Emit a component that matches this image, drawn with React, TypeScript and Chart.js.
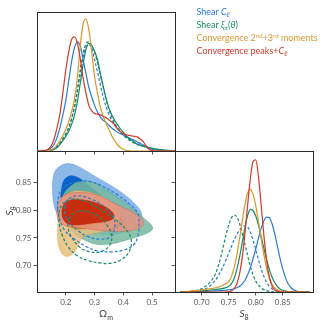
import React, { useEffect, useRef } from "react";
import { Chart, registerables } from "chart.js";

Chart.register(...registerables);

// ---------- data ----------
const OM_TICKS = [0.2, 0.3, 0.4, 0.5];
const S8_TICKS = [0.7, 0.75, 0.8, 0.85];
const OM_RANGE = [0.1, 0.58];
const S8_RANGE_2D = [0.6525, 0.907];
const S8_RANGE_1D = [0.6505, 0.906];

const OM_GRID = [
  0.10, 0.11, 0.12, 0.13, 0.14, 0.15, 0.16, 0.17, 0.18, 0.19, 0.20, 0.21, 0.22, 0.23, 0.24, 0.25, 0.26,
  0.27, 0.28, 0.29, 0.30, 0.31, 0.32, 0.33, 0.34, 0.35, 0.36, 0.37, 0.38, 0.39, 0.40, 0.41, 0.42, 0.43,
  0.44, 0.45, 0.46, 0.47, 0.48, 0.49, 0.50, 0.51, 0.52, 0.53, 0.54, 0.55, 0.56, 0.57, 0.58,
];

const BLUE_OM = [0, 0, 0, 0.003, 0.01, 0.025, 0.05, 0.1, 0.17, 0.26, 0.36, 0.5, 0.64, 0.74, 0.785, 0.76, 0.66, 0.56, 0.46, 0.39, 0.33, 0.28, 0.245, 0.22, 0.205, 0.185, 0.165, 0.15, 0.135, 0.125, 0.115, 0.105, 0.095, 0.085, 0.075, 0.063, 0.054, 0.043, 0.032, 0.022, 0.014, 0.008, 0.004, 0.001, 0, 0, 0, 0, 0];
const GREEN_OM = [0, 0, 0, 0, 0.002, 0.005, 0.012, 0.025, 0.048, 0.075, 0.105, 0.14, 0.19, 0.255, 0.35, 0.48, 0.62, 0.73, 0.775, 0.76, 0.72, 0.66, 0.56, 0.47, 0.38, 0.31, 0.26, 0.22, 0.19, 0.16, 0.135, 0.11, 0.09, 0.075, 0.06, 0.048, 0.04, 0.034, 0.028, 0.024, 0.02, 0.016, 0.013, 0.01, 0.008, 0.006, 0.004, 0.002, 0.001];
const ORANGE_OM = [0, 0, 0, 0, 0.003, 0.01, 0.022, 0.045, 0.075, 0.112, 0.155, 0.21, 0.28, 0.37, 0.52, 0.75, 0.91, 0.95, 0.875, 0.72, 0.54, 0.42, 0.32, 0.25, 0.2, 0.155, 0.11, 0.075, 0.045, 0.025, 0.012, 0.005, 0.002, 0, 0, 0, 0, 0, 0, 0, 0, 0, 0, 0, 0, 0, 0, 0, 0];
const RED_OM = [0, 0, 0.001, 0.005, 0.015, 0.04, 0.09, 0.17, 0.27, 0.42, 0.58, 0.71, 0.8, 0.822, 0.78, 0.67, 0.53, 0.42, 0.33, 0.29, 0.27, 0.265, 0.26, 0.25, 0.24, 0.225, 0.21, 0.19, 0.16, 0.14, 0.125, 0.117, 0.112, 0.108, 0.105, 0.1, 0.085, 0.065, 0.035, 0.012, 0.003, 0, 0, 0, 0, 0, 0, 0, 0];
const BLUE_DASH_OM = [0, 0, 0, 0.001, 0.003, 0.008, 0.018, 0.035, 0.06, 0.09, 0.125, 0.17, 0.23, 0.31, 0.42, 0.55, 0.67, 0.745, 0.765, 0.74, 0.66, 0.57, 0.48, 0.39, 0.32, 0.265, 0.22, 0.185, 0.16, 0.135, 0.115, 0.098, 0.085, 0.073, 0.062, 0.052, 0.043, 0.035, 0.028, 0.021, 0.015, 0.01, 0.006, 0.003, 0.001, 0, 0, 0, 0];
const GREEN_DASH_OM = [0, 0, 0, 0.001, 0.003, 0.006, 0.015, 0.03, 0.055, 0.085, 0.12, 0.165, 0.23, 0.32, 0.44, 0.58, 0.7, 0.77, 0.785, 0.76, 0.71, 0.64, 0.55, 0.46, 0.37, 0.3, 0.245, 0.2, 0.17, 0.14, 0.115, 0.095, 0.08, 0.066, 0.055, 0.046, 0.039, 0.032, 0.026, 0.021, 0.017, 0.013, 0.01, 0.007, 0.005, 0.003, 0.002, 0.001, 0];

const S8_GRID = [
  0.660, 0.665, 0.670, 0.675, 0.680, 0.685, 0.690, 0.695, 0.700, 0.705, 0.710, 0.715, 0.720, 0.725, 0.730,
  0.735, 0.740, 0.745, 0.750, 0.755, 0.760, 0.765, 0.770, 0.775, 0.780, 0.785, 0.790, 0.795, 0.800, 0.805,
  0.810, 0.815, 0.820, 0.825, 0.830, 0.835, 0.840, 0.845, 0.850, 0.855, 0.860, 0.865, 0.870, 0.875, 0.880,
  0.885, 0.890, 0.895, 0.900,
];

const BLUE_S8 = [0, 0, 0, 0, 0.001, 0.001, 0.002, 0.002, 0.003, 0.004, 0.005, 0.006, 0.007, 0.008, 0.009, 0.01, 0.012, 0.013, 0.016, 0.018, 0.023, 0.03, 0.041, 0.058, 0.083, 0.122, 0.173, 0.236, 0.305, 0.382, 0.451, 0.504, 0.531, 0.528, 0.486, 0.415, 0.327, 0.239, 0.162, 0.102, 0.059, 0.032, 0.016, 0.007, 0.003, 0.001, 0, 0, 0];
const GREEN_S8 = [0, 0, 0.001, 0.002, 0.003, 0.004, 0.005, 0.007, 0.008, 0.01, 0.012, 0.014, 0.016, 0.018, 0.02, 0.022, 0.026, 0.031, 0.04, 0.06, 0.096, 0.16, 0.248, 0.349, 0.457, 0.543, 0.586, 0.578, 0.539, 0.474, 0.395, 0.31, 0.231, 0.162, 0.107, 0.067, 0.04, 0.022, 0.012, 0.006, 0.003, 0.001, 0, 0, 0, 0, 0, 0, 0];
const ORANGE_S8 = [0, 0, 0.002, 0.004, 0.006, 0.008, 0.01, 0.012, 0.014, 0.017, 0.02, 0.023, 0.026, 0.03, 0.034, 0.039, 0.05, 0.06, 0.074, 0.111, 0.172, 0.262, 0.377, 0.503, 0.619, 0.702, 0.728, 0.694, 0.612, 0.5, 0.379, 0.265, 0.172, 0.103, 0.057, 0.029, 0.014, 0.006, 0.002, 0.001, 0, 0, 0, 0, 0, 0, 0, 0, 0];
const RED_S8 = [0, 0, 0, 0, 0, 0, 0, 0, 0, 0, 0, 0, 0, 0, 0, 0, 0, 0.001, 0.003, 0.008, 0.024, 0.058, 0.128, 0.246, 0.414, 0.616, 0.805, 0.926, 0.937, 0.82, 0.619, 0.403, 0.227, 0.109, 0.045, 0.016, 0.005, 0.001, 0, 0, 0, 0, 0, 0, 0, 0, 0, 0, 0];
const BLUE_DASH_S8 = [0.002, 0.003, 0.003, 0.004, 0.005, 0.006, 0.008, 0.011, 0.014, 0.019, 0.029, 0.042, 0.06, 0.082, 0.111, 0.145, 0.185, 0.229, 0.276, 0.323, 0.368, 0.408, 0.439, 0.461, 0.47, 0.461, 0.425, 0.368, 0.3, 0.229, 0.164, 0.111, 0.07, 0.042, 0.023, 0.012, 0.006, 0.003, 0.001, 0, 0, 0, 0, 0, 0, 0, 0, 0, 0];
const GREEN_DASH_S8 = [0, 0, 0.001, 0.002, 0.004, 0.007, 0.011, 0.016, 0.024, 0.035, 0.05, 0.068, 0.092, 0.125, 0.177, 0.244, 0.325, 0.406, 0.477, 0.526, 0.546, 0.532, 0.487, 0.418, 0.338, 0.256, 0.182, 0.122, 0.077, 0.05, 0.03, 0.017, 0.01, 0.005, 0.002, 0.001, 0, 0, 0, 0, 0, 0, 0, 0, 0, 0, 0, 0, 0];

// 2D contours: [Omega_m, S8] pairs
const BLUE_2SIG = [[0.153, 0.845], [0.160, 0.868], [0.178, 0.879], [0.200, 0.884], [0.225, 0.883], [0.255, 0.876], [0.300, 0.862], [0.350, 0.847], [0.400, 0.830], [0.440, 0.812], [0.462, 0.797], [0.462, 0.782], [0.440, 0.770], [0.400, 0.760], [0.350, 0.756], [0.300, 0.758], [0.250, 0.764], [0.205, 0.774], [0.175, 0.790], [0.158, 0.812]];
const BLUE_1SIG = [[0.182, 0.825], [0.190, 0.850], [0.205, 0.860], [0.225, 0.862], [0.250, 0.857], [0.280, 0.845], [0.320, 0.828], [0.360, 0.810], [0.380, 0.795], [0.370, 0.782], [0.330, 0.778], [0.280, 0.782], [0.230, 0.790], [0.195, 0.805]];
const GREEN_2SIG = [[0.182, 0.815], [0.195, 0.832], [0.215, 0.843], [0.240, 0.851], [0.280, 0.853], [0.330, 0.840], [0.390, 0.820], [0.440, 0.800], [0.480, 0.782], [0.502, 0.770], [0.495, 0.762], [0.460, 0.754], [0.410, 0.746], [0.365, 0.740], [0.320, 0.738], [0.284, 0.742], [0.245, 0.752], [0.210, 0.768], [0.190, 0.790]];
const GREEN_1SIG = [[0.205, 0.795], [0.210, 0.815], [0.240, 0.825], [0.280, 0.826], [0.330, 0.812], [0.380, 0.792], [0.400, 0.777], [0.370, 0.766], [0.320, 0.764], [0.260, 0.768], [0.220, 0.778]];
const ORANGE_2SIG = [[0.172, 0.775], [0.178, 0.800], [0.190, 0.822], [0.215, 0.832], [0.250, 0.835], [0.300, 0.830], [0.350, 0.818], [0.385, 0.802], [0.390, 0.787], [0.370, 0.772], [0.330, 0.762], [0.290, 0.757], [0.260, 0.752], [0.248, 0.742], [0.235, 0.728], [0.215, 0.718], [0.195, 0.718], [0.180, 0.728], [0.172, 0.745]];
const ORANGE_1SIG = [[0.190, 0.790], [0.195, 0.800], [0.215, 0.812], [0.250, 0.815], [0.300, 0.808], [0.335, 0.795], [0.335, 0.782], [0.310, 0.772], [0.270, 0.767], [0.230, 0.767], [0.200, 0.777]];
const RED_2SIG = [[0.168, 0.795], [0.175, 0.815], [0.195, 0.827], [0.238, 0.832], [0.280, 0.831], [0.320, 0.825], [0.360, 0.815], [0.400, 0.805], [0.440, 0.795], [0.468, 0.782], [0.468, 0.772], [0.440, 0.765], [0.400, 0.762], [0.350, 0.762], [0.300, 0.765], [0.250, 0.768], [0.200, 0.772], [0.175, 0.780]];
const RED_1SIG = [[0.186, 0.800], [0.195, 0.812], [0.215, 0.818], [0.250, 0.819], [0.290, 0.816], [0.330, 0.808], [0.360, 0.798], [0.368, 0.788], [0.350, 0.781], [0.300, 0.777], [0.250, 0.774], [0.210, 0.775], [0.190, 0.785]];
const BLUE_DASH_2SIG = [[0.172, 0.802], [0.173, 0.820], [0.185, 0.838], [0.205, 0.846], [0.250, 0.852], [0.290, 0.851], [0.330, 0.843], [0.380, 0.828], [0.420, 0.812], [0.450, 0.795], [0.455, 0.775], [0.450, 0.752], [0.435, 0.737], [0.400, 0.728], [0.360, 0.725], [0.308, 0.727], [0.270, 0.735], [0.230, 0.748], [0.195, 0.765], [0.178, 0.785]];
const BLUE_DASH_1SIG = [[0.195, 0.805], [0.205, 0.818], [0.240, 0.826], [0.290, 0.820], [0.335, 0.806], [0.365, 0.788], [0.370, 0.768], [0.355, 0.752], [0.320, 0.748], [0.280, 0.752], [0.245, 0.762], [0.215, 0.777], [0.198, 0.792]];
const GREEN_DASH_2SIG = [[0.175, 0.795], [0.190, 0.812], [0.220, 0.820], [0.260, 0.818], [0.300, 0.808], [0.340, 0.795], [0.380, 0.780], [0.415, 0.762], [0.428, 0.745], [0.420, 0.725], [0.390, 0.710], [0.350, 0.704], [0.319, 0.705], [0.280, 0.709], [0.240, 0.718], [0.210, 0.733], [0.190, 0.752], [0.178, 0.773]];
const GREEN_DASH_1SIG = [[0.210, 0.785], [0.235, 0.797], [0.270, 0.798], [0.310, 0.790], [0.345, 0.772], [0.360, 0.752], [0.350, 0.735], [0.320, 0.725], [0.285, 0.725], [0.250, 0.733], [0.222, 0.750], [0.208, 0.768]];

const LEGEND_LABELS = ["Shear", "Shear", "Convergence", "Convergence"];

// ---------- styles ----------
const FONT = "Lato";
const FRAME = "#2b2b2b";
const BLUE = "#2a7bd4";
const GREEN = "#178a68";
const ORANGE = "#d9982a";
const RED = "#d03a28";

type Part = { t: string; it?: boolean; sub?: boolean };
const OM_LABEL: Part[] = [{ t: "Ω" }, { t: "m", sub: true }];
const S8_LABEL: Part[] = [{ t: "S", it: true }, { t: "8", sub: true }];

function drawParts(ctx: CanvasRenderingContext2D, parts: Part[], x: number, y: number, rot: number, size: number, color: string) {
  ctx.save();
  ctx.translate(x, y);
  if (rot) ctx.rotate(rot);
  ctx.fillStyle = color;
  ctx.textBaseline = "alphabetic";
  ctx.textAlign = "left";
  const fonts = parts.map((p) => `${p.it ? "italic " : ""}${p.sub ? Math.round(size * 0.7) : size}px ${FONT}`);
  const widths = parts.map((p, i) => {
    ctx.font = fonts[i];
    return ctx.measureText(p.t).width;
  });
  const total = widths.reduce((a, b) => a + b, 0);
  let cx = -total / 2;
  parts.forEach((p, i) => {
    ctx.font = fonts[i];
    ctx.fillText(p.t, cx, size * 0.35 + (p.sub ? size * 0.25 : 0));
    cx += widths[i];
  });
  ctx.restore();
}

type TitleItem = { parts: Part[]; dx: number | null; dy: number; fromBottom?: boolean; rot?: number };
const titlePlugin = (items: TitleItem[]) => ({
  id: "mathTitles",
  afterDraw(chart: any) {
    const a = chart.chartArea;
    items.forEach((it) => {
      const x = it.dx === null ? (a.left + a.right) / 2 : a.left + it.dx;
      const y = it.fromBottom ? a.bottom + it.dy : a.top + it.dy;
      drawParts(chart.ctx, it.parts, x, y, it.rot || 0, 10, "#3a3a3a");
    });
  },
});

const curve = (xs: number[], ys: number[], color: string, dashed: boolean, order: number) => ({
  data: xs.map((x, i) => ({ x, y: ys[i] })),
  borderColor: color,
  borderWidth: 1.2,
  borderDash: dashed ? [3, 2] : [],
  pointRadius: 0,
  fill: false,
  tension: 0.4,
  cubicInterpolationMode: "monotone",
  order,
});

const contour = (p: number[][], fillColor: string, lineColor: string, lw: number, dashed: boolean, order: number) => ({
  data: [...p, p[0]].map(([x, y]) => ({ x, y })),
  borderColor: lineColor,
  backgroundColor: fillColor,
  borderWidth: lw,
  borderDash: dashed ? [3, 2] : [],
  pointRadius: 0,
  fill: fillColor === "none" ? false : "shape",
  tension: 0.4,
  order,
});

const frameAxis = (position: string) => ({
  type: "linear",
  position,
  display: true,
  min: 0,
  max: 1,
  ticks: { display: false },
  grid: { display: false },
  border: { display: true, color: FRAME, width: 1 },
  afterFit: (s: any) => {
    if (position === "top" || position === "bottom") s.height = 0;
    else s.width = 0;
  },
});

const tickAxis = (position: string, range: number[], ticks: number[], digits: number, labels: boolean, size: number, border = true) => ({
  type: "linear",
  position,
  display: true,
  min: range[0],
  max: range[1],
  afterBuildTicks: (s: any) => {
    s.ticks = ticks.map((v) => ({ value: v }));
  },
  ticks: {
    display: labels,
    callback: (v: any) => Number(v).toFixed(digits),
    font: { family: FONT, size: 8 },
    color: "#5a5a5a",
    padding: 2,
  },
  grid: { display: true, drawOnChartArea: false, drawTicks: true, tickLength: 3.5, color: FRAME, lineWidth: 0.8 },
  border: { display: border, color: FRAME, width: 1 },
  afterFit: (s: any) => {
    if (position === "top" || position === "bottom") s.height = size;
    else s.width = size;
  },
});

const baseOptions = (padding: any, scales: any) => ({
  animation: false,
  responsive: false,
  events: [],
  layout: { padding, autoPadding: false },
  plugins: { legend: { display: false }, tooltip: { enabled: false } },
  scales,
});

export default function App() {
  const aRef = useRef<HTMLCanvasElement>(null);
  const bRef = useRef<HTMLCanvasElement>(null);
  const cRef = useRef<HTMLCanvasElement>(null);

  useEffect(() => {
    const charts: Chart[] = [];
    // top-left: 1D Omega_m
    charts.push(
      new Chart(aRef.current as HTMLCanvasElement, {
        type: "line",
        data: {
          datasets: [
            curve(OM_GRID, BLUE_DASH_OM, BLUE, true, 5),
            curve(OM_GRID, GREEN_DASH_OM, GREEN, true, 4),
            curve(OM_GRID, BLUE_OM, BLUE, false, 3),
            curve(OM_GRID, GREEN_OM, GREEN, false, 2),
            curve(OM_GRID, ORANGE_OM, ORANGE, false, 1),
            curve(OM_GRID, RED_OM, RED, false, 0),
          ] as any,
        },
        options: baseOptions({ left: 37, top: 12, right: 149, bottom: 173 }, {
          x: tickAxis("bottom", OM_RANGE, OM_TICKS, 1, false, 0),
          y: { ...frameAxis("left"), min: 0, max: 1 },
          x2: frameAxis("top"),
          y2: frameAxis("right"),
        }) as any,
      })
    );
    // bottom-left: 2D contours
    charts.push(
      new Chart(bRef.current as HTMLCanvasElement, {
        type: "line",
        data: {
          datasets: [
            contour(BLUE_2SIG, "rgba(140,185,232,1)", "rgba(42,123,212,0.5)", 0.6, false, 20),
            contour(BLUE_1SIG, "rgba(10,98,200,1)", "rgba(10,98,200,1)", 0.5, false, 19),
            contour(GREEN_2SIG, "rgba(120,184,161,0.85)", "rgba(23,138,104,0.5)", 0.6, false, 18),
            contour(GREEN_1SIG, "rgba(20,130,98,0.85)", "rgba(20,130,98,0.6)", 0.5, false, 17),
            contour(ORANGE_2SIG, "rgba(232,190,126,0.85)", "rgba(217,152,42,0.5)", 0.6, false, 16),
            contour(ORANGE_1SIG, "rgba(196,138,14,0.88)", "rgba(196,138,14,0.7)", 0.5, false, 15),
            contour(RED_2SIG, "rgba(232,146,128,0.85)", "rgba(208,58,40,0.45)", 0.6, false, 14),
            contour(RED_1SIG, "rgba(196,38,6,0.92)", "rgba(196,38,6,0.8)", 0.5, false, 13),
            contour(BLUE_DASH_2SIG, "none", BLUE, 1.2, true, 4),
            contour(BLUE_DASH_1SIG, "none", BLUE, 1.2, true, 3),
            contour(GREEN_DASH_2SIG, "none", GREEN, 1.2, true, 2),
            contour(GREEN_DASH_1SIG, "none", GREEN, 1.2, true, 1),
          ] as any,
        },
        options: baseOptions({ left: 0, top: 151, right: 149, bottom: 0 }, {
          x: tickAxis("bottom", OM_RANGE, OM_TICKS, 1, true, 32),
          y: tickAxis("left", S8_RANGE_2D, S8_TICKS, 2, true, 37),
          x2: frameAxis("top"),
          y2: frameAxis("right"),
        }) as any,
        plugins: [
          titlePlugin([
            { parts: OM_LABEL, dx: null, dy: 21.5, fromBottom: true },
            { parts: S8_LABEL, dx: -27.5, dy: 60, rot: -Math.PI / 2 },
          ]),
        ] as any,
      })
    );
    // bottom-right: 1D S8
    charts.push(
      new Chart(cRef.current as HTMLCanvasElement, {
        type: "line",
        data: {
          datasets: [
            curve(S8_GRID, BLUE_DASH_S8, BLUE, true, 5),
            curve(S8_GRID, GREEN_DASH_S8, GREEN, true, 4),
            curve(S8_GRID, BLUE_S8, BLUE, false, 3),
            curve(S8_GRID, GREEN_S8, GREEN, false, 2),
            curve(S8_GRID, ORANGE_S8, ORANGE, false, 1),
            curve(S8_GRID, RED_S8, RED, false, 0),
          ] as any,
        },
        options: baseOptions({ left: 175, top: 151, right: 11, bottom: 0 }, {
          x: tickAxis("bottom", S8_RANGE_1D, S8_TICKS, 2, true, 32),
          y: { ...frameAxis("left"), min: 0, max: 1 },
          ys: tickAxis("left", S8_RANGE_2D, S8_TICKS, 2, false, 0, false),
          x2: frameAxis("top"),
          y2: frameAxis("right"),
        }) as any,
        plugins: [titlePlugin([{ parts: S8_LABEL, dx: null, dy: 21.5, fromBottom: true }])] as any,
      })
    );
    return () => charts.forEach((c) => c.destroy());
  }, []);

  const cv = { position: "absolute" as const, left: 0, top: 0, width: 324, height: 324 };
  const sub = { fontSize: "0.72em", verticalAlign: "-0.3em", lineHeight: 0 };
  const sup = { fontSize: "0.68em", verticalAlign: "0.45em", lineHeight: 0 };
  const row = { height: 13.3, lineHeight: "13.3px", whiteSpace: "nowrap" as const };
  return (
    <div style={{ position: "absolute", left: 0, top: 0, width: 324, height: 324, background: "#fff", overflow: "hidden" }}>
      <canvas ref={aRef} width={324} height={324} style={cv} />
      <canvas ref={bRef} width={324} height={324} style={cv} />
      <canvas ref={cRef} width={324} height={324} style={cv} />
      <div style={{ position: "absolute", left: 196.5, top: 4.5, fontFamily: FONT, fontSize: 9 }}>
        <div style={{ ...row, color: BLUE }}>
          {LEGEND_LABELS[0]} <i>C</i>
          <span style={sub}>ℓ</span>
        </div>
        <div style={{ ...row, color: GREEN }}>
          {LEGEND_LABELS[1]} <i>ξ</i>
          <span style={sub}>±</span>(<i>θ</i>)
        </div>
        <div style={{ ...row, color: ORANGE }}>
          {LEGEND_LABELS[2]} 2<span style={sup}>nd</span>+3<span style={sup}>rd</span> moments
        </div>
        <div style={{ ...row, color: RED }}>
          {LEGEND_LABELS[3]} peaks+<i>C</i>
          <span style={sub}>ℓ</span>
        </div>
      </div>
    </div>
  );
}
